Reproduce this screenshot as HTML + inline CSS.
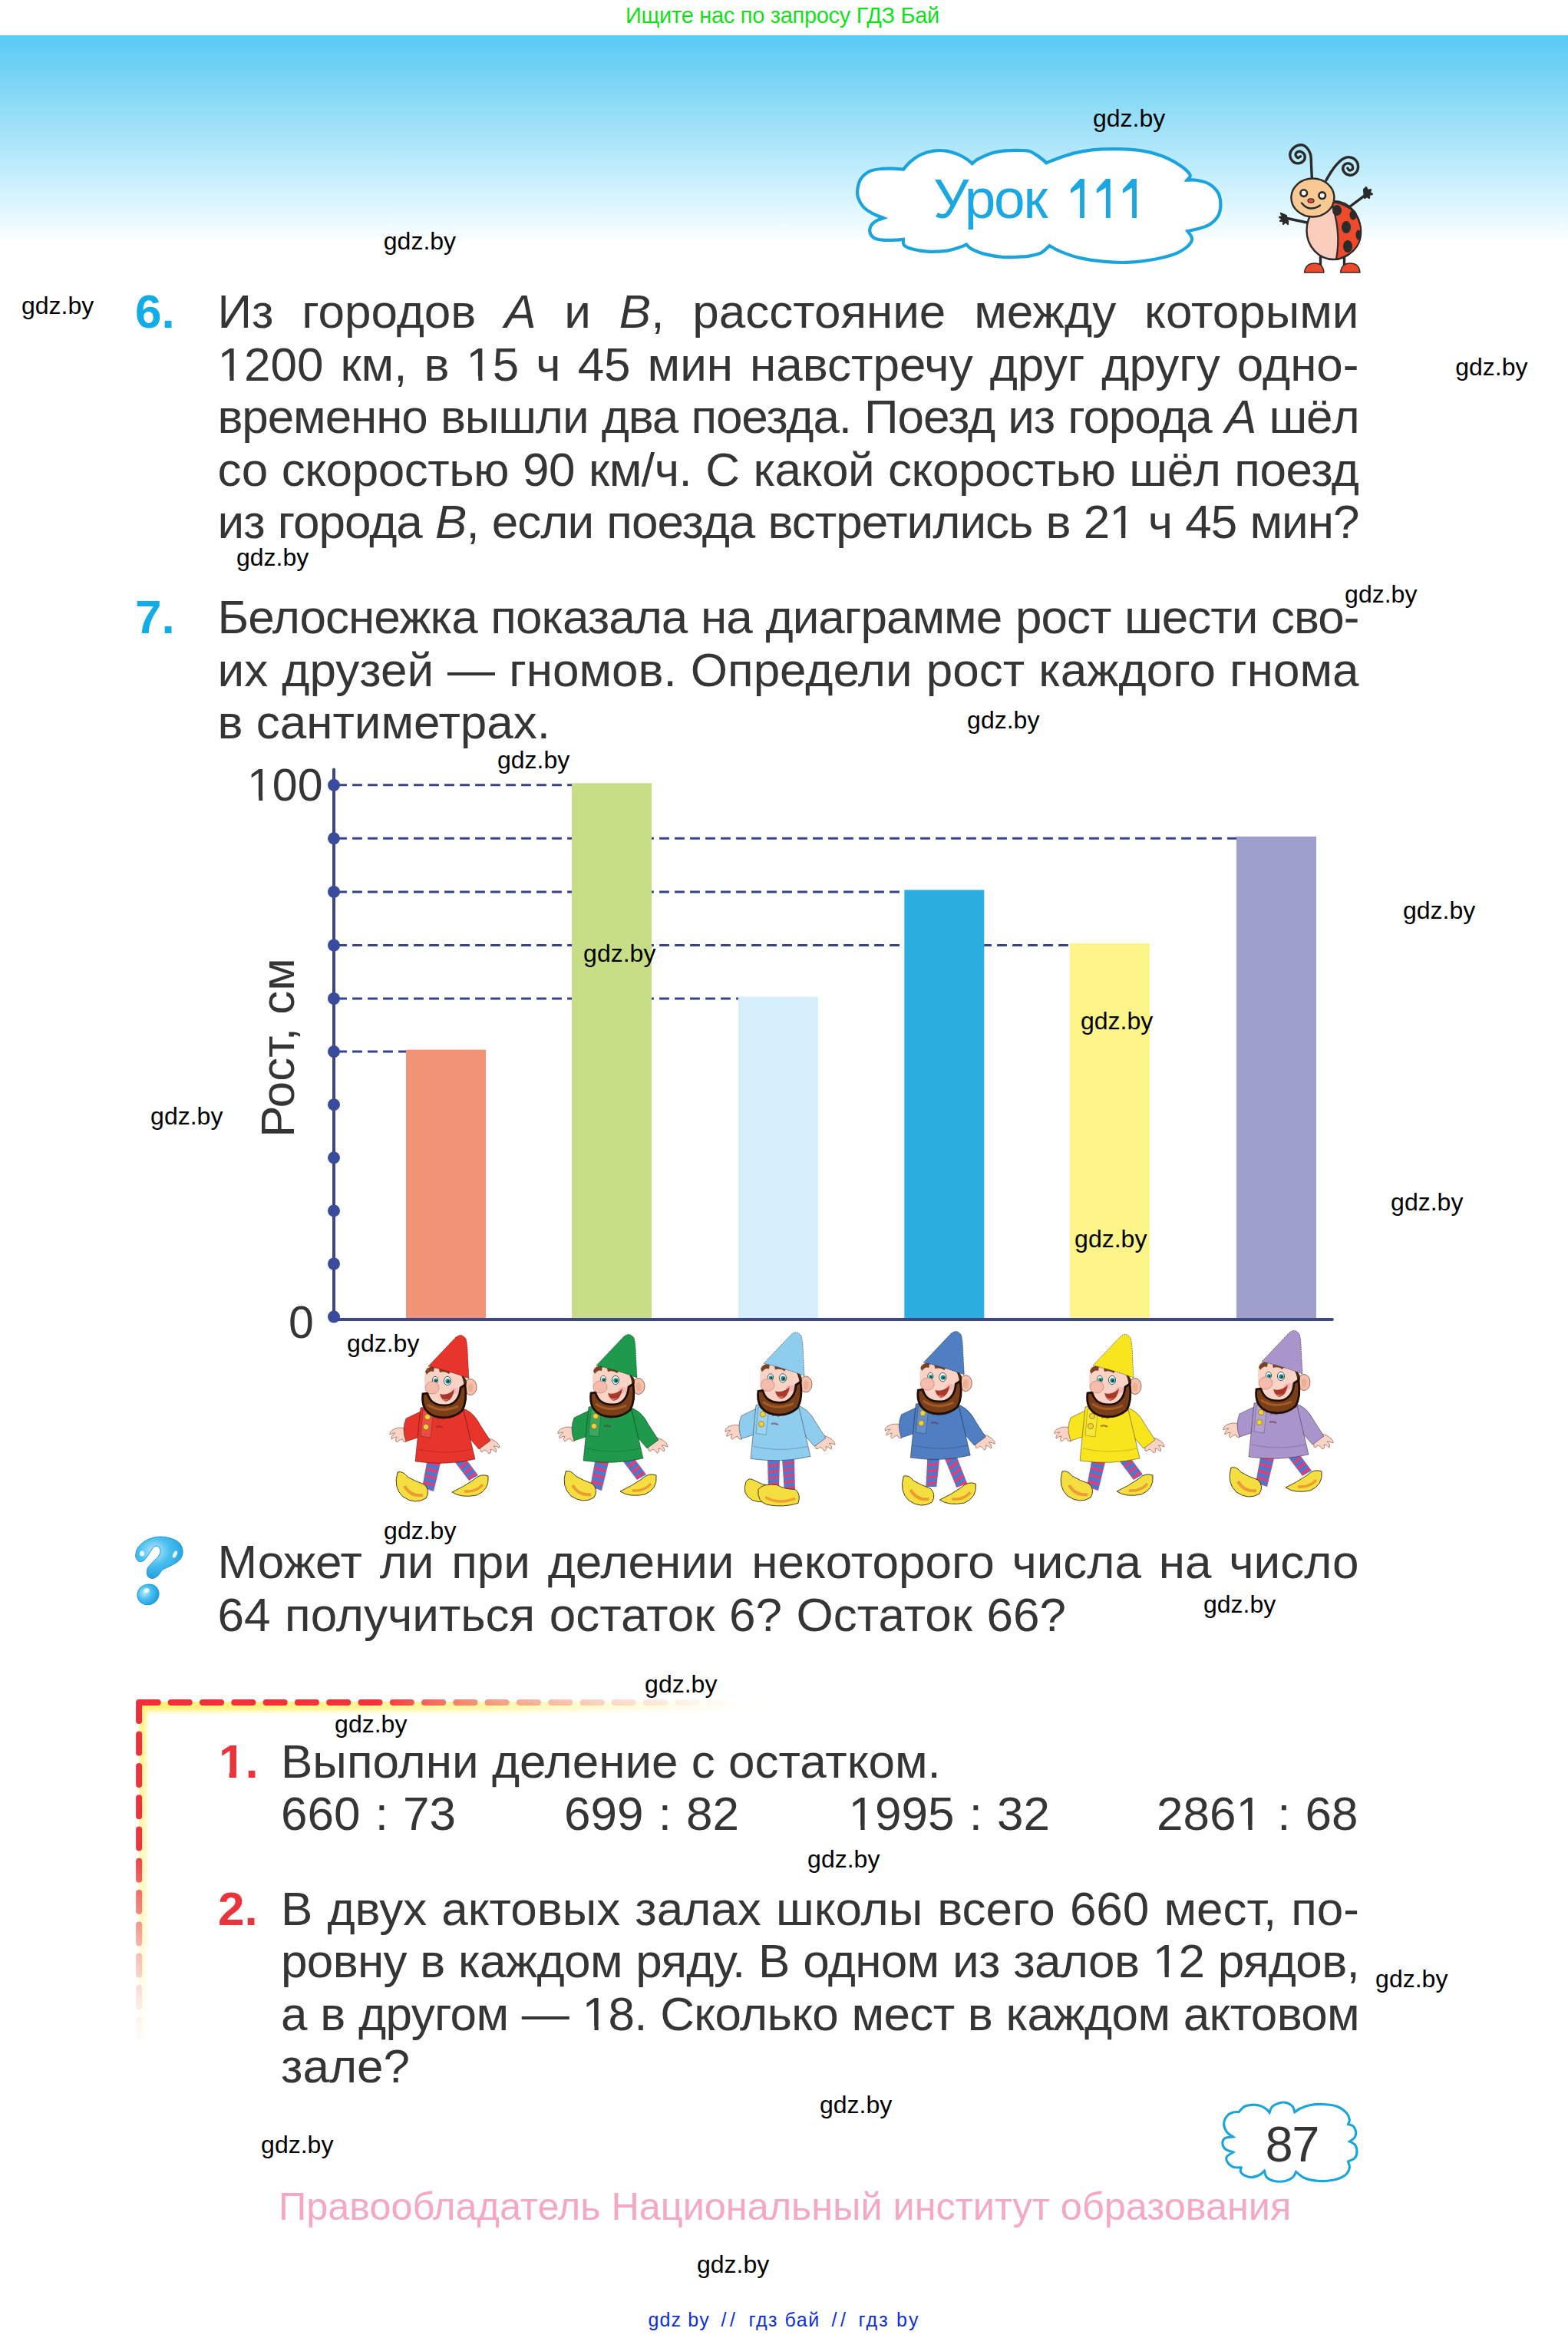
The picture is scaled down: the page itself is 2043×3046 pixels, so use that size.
<!DOCTYPE html>
<html><head><meta charset="utf-8">
<style>
html,body{margin:0;padding:0;background:#fff;}
body{width:2043px;height:3046px;position:relative;overflow:hidden;font-family:"Liberation Sans",sans-serif;color:#353535;}
#hdr{position:absolute;left:0;top:46px;width:2043px;height:274px;
background:linear-gradient(to bottom,#58c9f6 0px,#78d4f5 54px,#96def7 104px,#b4e8fa 154px,#d2f3fe 204px,#ecfaff 244px,#ffffff 270px);}
.top{position:absolute;left:-2px;top:0;width:2043px;text-align:center;font-size:29px;letter-spacing:-0.3px;line-height:40px;color:#14e01a;}
.p{position:absolute;font-size:62px;line-height:68.6px;white-space:nowrap;}
.ns{word-spacing:2px}
.o{display:inline-block;clip-path:polygon(0 0,100% 0,100% 49.3px,21.1px 49.3px,21.1px 100%,15.9px 100%,15.9px 49.3px,0 49.3px)}
.ob{display:inline-block;clip-path:polygon(0 0,100% 0,100% 47.8px,22.9px 47.8px,22.9px 100%,13.6px 100%,13.6px 47.8px,0 47.8px)}
.o2{display:inline-block;clip-path:polygon(0 0,100% 0,100% 45px,20.2px 45px,20.2px 100%,15.2px 100%,15.2px 45px,0 45px)}
.j{text-align:justify;text-align-last:justify;}
.num{position:absolute;font-size:62px;line-height:68.6px;font-weight:bold;white-space:nowrap;}
.blue{color:#12ace6;}
.red{color:#e8343a;}
i{font-style:italic;}
.wm{position:absolute;font-size:32px;line-height:36px;color:#000;white-space:nowrap;}
svg.full{position:absolute;left:0;top:0;width:2043px;height:3046px;overflow:visible;}
.bl{position:absolute;top:3004.6px;font-size:25px;line-height:34px;color:#0c30dc;white-space:nowrap;letter-spacing:0.3px}
.lbl{position:absolute;font-size:58px;line-height:60px;white-space:nowrap;}
</style></head><body>
<div class="top">Ищите нас по запросу ГДЗ Бай</div>
<div id="hdr"></div>

<svg class="full" viewBox="0 0 2043 3046">
<defs>
  <pattern id="stripe" patternUnits="userSpaceOnUse" width="9" height="9" patternTransform="rotate(-25)">
    <rect width="9" height="9" fill="#d8407e"/><rect width="9" height="4.5" fill="#3b7fd4"/>
  </pattern>
  <pattern id="stripeL" patternUnits="userSpaceOnUse" width="9" height="9" patternTransform="rotate(13)">
    <rect width="9" height="9" fill="#d8407e"/><rect width="9" height="4.5" fill="#3b7fd4"/>
  </pattern>
  <pattern id="stripeR" patternUnits="userSpaceOnUse" width="9" height="9" patternTransform="rotate(-37)">
    <rect width="9" height="9" fill="#d8407e"/><rect width="9" height="4.5" fill="#3b7fd4"/>
  </pattern>
  <pattern id="stripe2" patternUnits="userSpaceOnUse" width="8" height="8" patternTransform="rotate(-8)">
    <rect width="8" height="8" fill="#d8407e"/><rect width="8" height="4" fill="#3b7fd4"/>
  </pattern>
  <radialGradient id="qg" cx="0.4" cy="0.35" r="0.7">
    <stop offset="0" stop-color="#bfeafc"/><stop offset="0.45" stop-color="#4cc0f0"/><stop offset="1" stop-color="#1a9bdc"/>
  </radialGradient>
  <linearGradient id="rgH" gradientUnits="userSpaceOnUse" x1="181" y1="0" x2="960" y2="0">
    <stop offset="0" stop-color="#ee2f3b"/>
    <stop offset="0.4" stop-color="#ee353d"/>
    <stop offset="0.55" stop-color="#f07a66" stop-opacity="0.85"/>
    <stop offset="0.72" stop-color="#f39a86" stop-opacity="0.55"/>
    <stop offset="0.88" stop-color="#f6b8a8" stop-opacity="0.25"/>
    <stop offset="1" stop-color="#fbd6cc" stop-opacity="0"/>
  </linearGradient>
  <linearGradient id="rgV" gradientUnits="userSpaceOnUse" x1="0" y1="2218" x2="0" y2="2670">
    <stop offset="0" stop-color="#ee2f3b"/>
    <stop offset="0.42" stop-color="#ee353d"/>
    <stop offset="0.6" stop-color="#f06a60" stop-opacity="0.8"/>
    <stop offset="0.78" stop-color="#f39a90" stop-opacity="0.45"/>
    <stop offset="0.92" stop-color="#f7c0b8" stop-opacity="0.15"/>
    <stop offset="1" stop-color="#fbd6cc" stop-opacity="0"/>
  </linearGradient>
  <linearGradient id="ygH" gradientUnits="userSpaceOnUse" x1="181" y1="0" x2="1010" y2="0">
    <stop offset="0" stop-color="#fff070" stop-opacity="1"/>
    <stop offset="0.55" stop-color="#fff388" stop-opacity="0.75"/>
    <stop offset="1" stop-color="#fffbd0" stop-opacity="0"/>
  </linearGradient>
  <linearGradient id="ygV" gradientUnits="userSpaceOnUse" x1="0" y1="2218" x2="0" y2="2680">
    <stop offset="0" stop-color="#fff37a" stop-opacity="0.9"/>
    <stop offset="0.6" stop-color="#fff59a" stop-opacity="0.55"/>
    <stop offset="1" stop-color="#fffbd0" stop-opacity="0"/>
  </linearGradient>
  <linearGradient id="fadeDown" x1="0" y1="0" x2="0" y2="1"><stop offset="0" stop-color="#fff"/><stop offset="1" stop-color="#fff" stop-opacity="0"/></linearGradient>
  <linearGradient id="fadeRight" x1="0" y1="0" x2="1" y2="0"><stop offset="0" stop-color="#fff"/><stop offset="1" stop-color="#fff" stop-opacity="0"/></linearGradient>
  <mask id="mDown" maskContentUnits="objectBoundingBox"><rect width="1" height="1" fill="url(#fadeDown)"/></mask>
  <mask id="mRight" maskContentUnits="objectBoundingBox"><rect width="1" height="1" fill="url(#fadeRight)"/></mask>
  <linearGradient id="fadeDown2" x1="0" y1="0" x2="0" y2="1"><stop offset="0" stop-color="#fff"/><stop offset="0.45" stop-color="#fff"/><stop offset="1" stop-color="#fff" stop-opacity="0"/></linearGradient>
  <linearGradient id="fadeRight2" x1="0" y1="0" x2="1" y2="0"><stop offset="0" stop-color="#fff"/><stop offset="0.4" stop-color="#fff"/><stop offset="1" stop-color="#fff" stop-opacity="0"/></linearGradient>
  <mask id="mDown2" maskContentUnits="objectBoundingBox"><rect width="1" height="1" fill="url(#fadeDown2)"/></mask>
  <mask id="mRight2" maskContentUnits="objectBoundingBox"><rect width="1" height="1" fill="url(#fadeRight2)"/></mask>

  <g id="gtop">
    <!-- hands -->
    <path d="M26,124 Q16,120 8,124 Q2,127 3,131 Q6,129 10,129 Q4,133 5,137 Q9,134 12,134 Q9,139 12,141 Q16,137 19,137 Q20,141 24,141 Z" fill="#f8d4c6" stroke="#a86858" stroke-width="0.8"/>
    <path d="M120,136 Q131,134 139,139 Q146,143 146,148 Q142,146 138,146 Q143,150 141,154 Q137,150 134,150 Q136,155 132,156 Q129,151 126,151 Q124,155 121,153 Z" fill="#f8d4c6" stroke="#a86858" stroke-width="0.8"/>
    <!-- sleeves and coat -->
    <path d="M47,99 L24,110 Q18,124 24,140 L52,131 Z" fill="var(--c)" stroke="rgba(0,0,0,0.4)" stroke-width="1"/>
    <path d="M94,96 Q111,99 121,119 L134,139 L119,150 L100,128 Z" fill="var(--c)" stroke="rgba(0,0,0,0.4)" stroke-width="1"/>
    <path d="M43,96 Q70,90 98,95 L114,163 Q76,172 36,166 Z" fill="var(--c)" stroke="rgba(0,0,0,0.4)" stroke-width="1"/>
    <path d="M46,99 L60,97 L56,135 L43,133 Z" fill="rgba(255,255,255,0.12)" stroke="rgba(0,0,0,0.3)" stroke-width="0.8"/>
    <path d="M40,150 Q75,158 110,150" fill="none" stroke="rgba(0,0,0,0.18)" stroke-width="1.2"/>
    <circle cx="52" cy="108" r="3.6" fill="#f2d23a" stroke="#8a6a10" stroke-width="0.7"/>
    <circle cx="50" cy="121" r="3.6" fill="#f2d23a" stroke="#8a6a10" stroke-width="0.7"/>
    <path d="M64,110 q5,-2 9,1 M63,121 q5,-2 9,1" fill="none" stroke="rgba(120,40,60,0.6)" stroke-width="2"/>
    <!-- ear -->
    <ellipse cx="108" cy="69" rx="8" ry="10.5" fill="#f4c2ac" stroke="#8a5040" stroke-width="0.8"/>
    <ellipse cx="108" cy="70" rx="3.5" ry="6" fill="#e8a088" opacity="0.6"/>
    <!-- hair behind -->
    <path d="M92,52 Q103,54 103,64 L98,78 Q92,70 90,60 Z" fill="#4a2612"/>
    <!-- face -->
    <path d="M50,44 Q75,38 96,54 Q102,66 98,80 Q88,94 72,92 Q55,90 50,76 Q46,60 50,44 Z" fill="#f9d4c6"/>
    <ellipse cx="88" cy="74" rx="6" ry="4" fill="#f2a0a8" opacity="0.5"/>
    <!-- beard -->
    <path d="M46,78 Q43,100 61,107 Q82,113 97,100 Q104,88 101,66 L95,70 Q94,87 81,92 Q67,95 58,88 Q53,83 52,77 Z" fill="#7a3e18" stroke="#1e0e05" stroke-width="2.8"/>
    <path d="M52,92 Q70,104 92,94" fill="none" stroke="#c07030" stroke-width="3" opacity="0.6"/>
    <!-- brows -->
    <path d="M49,49 Q53,41 61,43 L60,49 Q55,47 51,53 Z" fill="#7a4424"/>
    <path d="M67,46 Q75,41 83,48 L80,52 Q75,48 68,50 Z" fill="#7a4424"/>
    <!-- eyes -->
    <ellipse cx="62" cy="60" rx="3.6" ry="4.6" fill="#fff" stroke="#20302a" stroke-width="0.8"/>
    <ellipse cx="78" cy="61" rx="4.6" ry="5.6" fill="#fff" stroke="#20302a" stroke-width="0.8"/>
    <circle cx="62.5" cy="60.5" r="2.6" fill="#139a98"/>
    <circle cx="78.5" cy="61.5" r="3.2" fill="#139a98"/>
    <circle cx="63" cy="61" r="1.1" fill="#102020"/>
    <circle cx="79" cy="62" r="1.4" fill="#102020"/>
    <!-- nose -->
    <ellipse cx="58" cy="70" rx="9" ry="8" fill="#f5bcae" stroke="#c08070" stroke-width="0.7"/>
    <!-- mouth -->
    <path d="M68,78 Q78,81 87,72 Q85,86 76,88 Q70,86 68,78 Z" fill="#a83828"/>
    <path d="M71,84 Q76,86 80,84 Q77,88 73,87 Z" fill="#e07070"/>
    <!-- hat -->
    <path d="M53,42 L89,4 Q96,-2 102,6 Q104,12 104.5,30 L106,58 Q80,48 53,42 Z" fill="var(--c)" stroke="rgba(0,0,0,0.45)" stroke-width="1" stroke-dasharray="2 1"/>
  </g>
  <g id="shoeL"><path d="M0,0 Q-6,20 7,32 Q23,43 37,34 Q43,24 35,16 Q23,12 13,6 Q7,-2 0,0 Z" fill="#f5df40" stroke="#3a2a10" stroke-width="0.9"/><path d="M9,18 Q17,32 33,30" fill="none" stroke="#e8782a" stroke-width="4" opacity="0.65"/></g>
  <g id="shoeR"><path d="M0,22 Q12,30 32,26 Q49,19 47,1 Q37,-3 28,6 Q15,15 0,22 Z" fill="#f5df40" stroke="#3a2a10" stroke-width="0.9"/><path d="M16,21 Q32,22 40,12" fill="none" stroke="#e8782a" stroke-width="3.5" opacity="0.65"/></g>
  <g id="gnome">
    <use href="#shoeR" x="84" y="184"/>
    <path d="M52,162 L70,164 L60,205 L45,200 Z" fill="url(#stripeL)"/>
    <path d="M84,162 L100,160 L118,184 L106,191 Z" fill="url(#stripeR)"/>
    <use href="#shoeL" x="13" y="180"/>
    <use href="#gtop"/>
  </g>
  <g id="gnome3">
    <path d="M58,166 L74,166 L73,205 L59,205 Z" fill="url(#stripe2)"/>
    <path d="M77,166 L93,166 L94,210 L80,210 Z" fill="url(#stripe2)"/>
    <path d="M30,196 Q24,212 38,220 Q54,226 68,218 Q72,208 64,202 Q50,200 40,194 Q34,190 30,196 Z" fill="#f5df40" stroke="#3a2a10" stroke-width="0.9"/>
    <path d="M46,206 Q44,222 58,226 Q78,230 98,224 Q102,212 94,206 Q80,206 70,200 Q52,198 46,206 Z" fill="#f5df40" stroke="#3a2a10" stroke-width="0.9"/>
    <path d="M55,216 Q72,226 94,218" fill="none" stroke="#e8782a" stroke-width="3.5" opacity="0.6"/>
    <use href="#gtop"/>
  </g>
  <g id="gnome4">
    <path d="M58,166 L74,166 L70,204 L56,204 Z" fill="url(#stripe2)"/>
    <path d="M80,166 L96,164 L110,200 L96,205 Z" fill="url(#stripeR)"/>
    <use href="#shoeL" x="27" y="190"/>
    <use href="#shoeR" x="74" y="199"/>
    <use href="#gtop"/>
  </g>
</defs>

<!-- Урок cloud -->
<path d="M1177.1,220.6 C1178.6,218.9 1182.5,213.9 1186.2,210.7 C1189.9,207.5 1194.5,203.9 1199.5,201.6 C1204.5,199.2 1210.6,197.4 1216.1,196.6 C1221.6,195.8 1227.2,195.8 1232.7,196.6 C1238.2,197.4 1244.6,199.7 1249.3,201.6 C1254.0,203.5 1258.0,206.3 1260.9,208.2 C1263.8,210.1 1265.7,212.4 1266.7,213.2 C1267.9,212.2 1270.1,209.6 1274.1,207.4 C1278.1,205.2 1285.2,201.7 1290.7,199.9 C1296.2,198.1 1301.8,197.3 1307.3,196.6 C1312.8,195.9 1318.4,195.8 1323.9,195.8 C1329.4,195.8 1336.2,195.8 1340.5,196.8 C1344.8,197.8 1346.8,199.6 1350.0,201.6 C1353.2,203.6 1357.7,207.2 1359.9,209.0 C1362.1,210.8 1362.7,211.8 1363.2,212.3 C1364.9,211.6 1367.4,210.3 1373.2,208.2 C1379.0,206.1 1389.7,202.1 1398.0,199.9 C1406.3,197.8 1413.2,196.3 1422.9,195.3 C1432.6,194.3 1445.0,193.9 1456.1,194.1 C1467.2,194.3 1479.6,195.1 1489.3,196.6 C1499.0,198.1 1505.8,199.9 1514.1,203.2 C1522.4,206.5 1532.9,212.3 1539.0,216.5 C1545.1,220.7 1549.3,225.1 1550.6,228.1 C1551.8,231.1 1547.2,233.6 1546.5,234.7 C1548.6,234.7 1554.1,233.9 1558.9,234.7 C1563.7,235.5 1570.8,236.9 1575.5,239.7 C1580.2,242.5 1584.6,246.9 1587.1,251.3 C1589.6,255.7 1590.4,261.2 1590.4,266.2 C1590.4,271.2 1589.6,276.8 1587.1,281.2 C1584.6,285.6 1580.2,289.9 1575.5,292.8 C1570.8,295.7 1563.6,297.2 1558.9,298.6 C1554.2,300.0 1549.2,300.7 1547.3,301.1 C1548.3,302.8 1553.1,307.7 1553.1,311.0 C1553.1,314.3 1551.0,317.7 1547.3,321.0 C1543.6,324.3 1537.6,328.1 1530.7,330.9 C1523.8,333.6 1515.5,335.7 1505.8,337.5 C1496.1,339.3 1483.8,341.1 1472.7,341.7 C1461.7,342.3 1450.6,341.9 1439.5,340.9 C1428.4,339.9 1416.0,338.1 1406.3,335.9 C1396.6,333.7 1388.0,330.2 1381.5,327.6 C1375.0,325.0 1369.8,321.4 1367.4,320.1 C1365.6,321.6 1361.2,327.0 1356.6,329.3 C1352.0,331.6 1344.1,333.0 1340.0,333.8 C1335.9,334.6 1337.7,334.2 1332.2,334.4 C1326.8,334.6 1315.6,335.6 1307.3,335.0 C1299.0,334.4 1289.3,332.7 1282.4,330.9 C1275.5,329.1 1269.7,326.4 1265.8,324.3 C1261.9,322.2 1260.3,319.5 1259.2,318.5 C1257.5,319.2 1253.7,321.2 1249.3,322.6 C1244.9,324.0 1239.6,326.0 1232.7,326.8 C1225.8,327.6 1215.3,328.0 1207.8,327.6 C1200.3,327.2 1192.9,325.7 1187.9,324.3 C1182.9,322.9 1179.7,321.4 1177.9,319.3 C1176.1,317.2 1177.2,313.1 1177.1,311.8 C1175.3,311.9 1170.8,312.6 1166.3,312.7 C1161.8,312.8 1154.5,313.2 1149.8,312.7 C1145.1,312.1 1140.9,311.3 1138.1,309.4 C1135.3,307.5 1133.6,303.9 1133.2,301.1 C1132.8,298.3 1134.1,295.2 1135.7,292.8 C1137.3,290.4 1140.5,288.4 1143.1,287.0 C1145.7,285.6 1150.0,284.6 1151.4,284.1 C1148.9,283.1 1140.9,280.2 1136.5,277.8 C1132.1,275.4 1128.0,272.9 1124.9,269.6 C1121.9,266.3 1119.5,261.8 1118.2,257.9 C1117.0,254.0 1116.8,250.4 1117.4,246.3 C1118.0,242.2 1119.0,237.0 1121.6,233.1 C1124.2,229.2 1128.5,225.3 1133.2,223.1 C1137.9,220.9 1144.3,220.4 1149.8,219.8 C1155.3,219.2 1161.8,219.7 1166.3,219.8 C1170.8,219.9 1175.3,220.5 1177.1,220.6 Z" fill="#fff" stroke="#1ba3de" stroke-width="4.2"/>
<path d="M1407.1,233 L1412.9,233 L1412.9,283.9 L1407.1,283.9 L1407.1,244.4 L1395.0,251.8 L1395.0,246.4 Z" fill="#1ba7e1"/>
<path d="M1440.9,233 L1446.7,233 L1446.7,283.9 L1440.9,283.9 L1440.9,244.4 L1428.8,251.8 L1428.8,246.4 Z" fill="#1ba7e1"/>
<path d="M1475.1,233 L1480.9,233 L1480.9,283.9 L1475.1,283.9 L1475.1,244.4 L1463.0,251.8 L1463.0,246.4 Z" fill="#1ba7e1"/>
<!-- page number cloud -->
<path d="M1614.1,2751.6 C1615.3,2750.4 1618.2,2746.1 1621.4,2744.5 C1624.6,2742.9 1629.9,2742.2 1633.5,2742.1 C1637.1,2742.0 1640.4,2742.9 1643.2,2743.9 C1646.0,2744.9 1648.6,2746.8 1650.4,2748.2 C1652.2,2749.6 1653.5,2751.7 1654.1,2752.4 C1654.7,2751.1 1655.5,2746.6 1657.7,2744.5 C1659.9,2742.4 1664.2,2740.5 1667.4,2739.7 C1670.6,2738.9 1674.3,2738.9 1677.1,2739.7 C1679.9,2740.5 1682.8,2742.5 1684.4,2744.5 C1686.0,2746.5 1686.4,2750.6 1686.8,2751.8 C1688.0,2751.0 1690.9,2748.5 1694.1,2747.0 C1697.3,2745.5 1701.2,2743.6 1706.2,2742.7 C1711.2,2741.8 1718.2,2741.2 1724.3,2741.5 C1730.3,2741.8 1737.5,2742.6 1742.5,2744.5 C1747.5,2746.4 1752.0,2750.2 1754.6,2753.0 C1757.2,2755.8 1758.0,2759.1 1758.3,2761.5 C1758.6,2763.9 1756.8,2766.6 1756.5,2767.6 C1757.6,2768.0 1761.4,2768.2 1763.1,2770.0 C1764.8,2771.8 1766.6,2775.9 1766.8,2778.5 C1767.0,2781.1 1765.7,2783.8 1764.3,2785.7 C1762.9,2787.6 1759.3,2789.3 1758.3,2790.0 C1759.5,2790.7 1763.9,2792.1 1765.5,2794.2 C1767.1,2796.3 1768.0,2799.9 1768.0,2802.7 C1768.0,2805.5 1767.4,2809.0 1765.5,2811.2 C1763.6,2813.4 1758.0,2815.2 1756.5,2816.0 C1756.8,2817.4 1759.0,2821.5 1758.3,2824.5 C1757.6,2827.5 1755.8,2831.6 1752.2,2834.2 C1748.6,2836.8 1742.2,2839.1 1736.5,2840.3 C1730.8,2841.5 1724.4,2841.9 1718.3,2841.5 C1712.2,2841.1 1705.0,2839.8 1700.1,2837.8 C1695.1,2835.8 1690.5,2830.8 1688.6,2829.4 C1687.9,2830.6 1686.7,2834.6 1684.4,2836.6 C1682.1,2838.6 1678.8,2840.7 1674.7,2841.5 C1670.7,2842.3 1664.1,2842.3 1660.1,2841.5 C1656.0,2840.7 1652.5,2838.8 1650.4,2836.6 C1648.3,2834.4 1647.9,2829.5 1647.4,2828.1 C1646.5,2828.9 1644.7,2831.6 1642.0,2833.0 C1639.3,2834.4 1634.4,2836.4 1631.0,2836.6 C1627.6,2836.8 1623.8,2835.4 1621.4,2834.2 C1619.0,2833.0 1617.2,2831.1 1616.5,2829.4 C1615.8,2827.7 1617.0,2824.8 1617.1,2823.9 C1615.4,2823.8 1609.7,2824.4 1606.8,2823.3 C1603.9,2822.2 1600.9,2819.4 1599.5,2817.2 C1598.1,2815.0 1597.1,2812.2 1598.3,2810.0 C1599.5,2807.8 1605.4,2804.9 1606.8,2803.9 C1605.2,2803.3 1599.4,2802.1 1597.1,2800.3 C1594.8,2798.5 1593.1,2795.4 1592.9,2793.0 C1592.7,2790.6 1593.6,2787.2 1595.9,2785.7 C1598.2,2784.2 1605.0,2784.2 1606.8,2783.9 C1605.4,2782.8 1600.3,2780.2 1598.3,2777.3 C1596.3,2774.4 1594.5,2770.0 1594.7,2766.4 C1594.9,2762.8 1597.3,2758.4 1599.5,2756.0 C1601.7,2753.6 1605.6,2752.5 1608.0,2751.8 C1610.4,2751.1 1613.1,2751.6 1614.1,2751.6 Z" fill="#fff" stroke="#1ba3de" stroke-width="3.1"/>

<!-- ladybug -->
<g stroke="#2b2b2b" stroke-linecap="round" stroke-linejoin="round">
  <path d="M1709.4,233.0 C1709.2,230.0 1708.8,220.4 1708.5,215.0 C1708.2,209.6 1708.7,204.7 1707.3,200.6 C1705.9,196.5 1702.9,192.3 1700.2,190.4 C1697.5,188.5 1693.9,188.6 1691.0,189.4 C1688.1,190.2 1684.6,193.3 1682.9,195.5 C1681.2,197.7 1680.6,200.3 1680.8,202.7 C1681.0,205.1 1682.2,208.1 1683.9,209.8 C1685.6,211.5 1688.6,212.9 1691.0,212.9 C1693.4,212.9 1696.7,211.3 1698.2,209.8 C1699.7,208.3 1700.4,205.6 1700.2,203.7 C1700.0,201.8 1698.6,199.6 1697.1,198.6 C1695.6,197.6 1692.5,197.1 1691.0,197.6 C1689.5,198.1 1688.0,200.2 1688.0,201.6 C1688.0,202.9 1689.9,205.3 1691.0,205.7 C1692.1,206.0 1693.9,204.0 1694.5,203.7" fill="none" stroke-width="3.4"/>
  <path d="M1727.8,235.0 C1729.0,233.0 1732.6,226.5 1735.0,223.0 C1737.4,219.5 1739.5,216.6 1742.0,213.9 C1744.5,211.2 1747.5,208.2 1750.2,206.7 C1752.9,205.2 1755.7,204.3 1758.4,204.7 C1761.1,205.0 1764.6,206.8 1766.5,208.8 C1768.4,210.8 1769.6,214.2 1769.6,216.9 C1769.6,219.6 1768.4,223.2 1766.5,225.1 C1764.6,227.0 1761.0,228.4 1758.4,228.2 C1755.9,228.0 1752.6,226.0 1751.2,224.1 C1749.8,222.2 1749.5,218.8 1750.2,216.9 C1750.9,215.0 1753.4,213.2 1755.3,212.9 C1757.2,212.6 1760.2,213.7 1761.4,214.9 C1762.6,216.1 1762.9,218.8 1762.4,220.0 C1761.9,221.2 1759.5,222.2 1758.4,222.0 C1757.3,221.8 1756.2,219.5 1755.8,219.0" fill="none" stroke-width="3.4"/>
  <path d="M1703,290 L1675,284" fill="none" stroke-width="3.4"/>
  <path d="M1755,272 L1779,254" fill="none" stroke-width="3.4"/>
  <path d="M1720.5,335 L1720.5,350 M1751.5,335 L1751.5,350" fill="none" stroke-width="3.4"/>
  <path d="M1699.5,355 Q1701,343 1713,343 Q1724,343 1725,355 Z" fill="#ec4a2c" stroke-width="1.4"/>
  <path d="M1746.5,355 Q1748,343 1759,343 Q1771,343 1772,355 Z" fill="#ec4a2c" stroke-width="1.4"/>
  <g stroke-width="2.2" fill="#2b2b2b">
   <path d="M1669,278 l2,4 l-4,1 l4,2 l-3,3 l4,0 l0,4 l3,-3 l3,3 l0,-4 l-2,-3 l0,-4 z"/>
   <path d="M1777,247 l3,-3 l2,4 l4,-1 l-1,4 l3,2 l-4,1 l0,4 l-3,-2 l-3,2 z"/>
  </g>
  <ellipse cx="1737.5" cy="300" rx="35" ry="38" fill="#fbcdbd" stroke-width="2.4"/>
  <path d="M1734,262.5 Q1747,264 1760,272 Q1775,287 1773,306 Q1771,330 1741,338 Q1748,300 1734,262.5 Z" fill="#ee4a2c" stroke-width="2.2"/>
  <g fill="#2b2b2b" stroke="none">
    <ellipse cx="1742" cy="274" rx="6" ry="7"/>
    <ellipse cx="1763" cy="280" rx="4.5" ry="6.5"/>
    <ellipse cx="1754" cy="296" rx="6" ry="8"/>
    <ellipse cx="1770" cy="306" rx="3.5" ry="6.5"/>
    <ellipse cx="1756" cy="321" rx="6" ry="8"/>
  </g>
  <ellipse cx="1710.4" cy="257.5" rx="28" ry="25" fill="#f9c993" stroke-width="2.4"/>
  <circle cx="1698.7" cy="251.6" r="4.3" fill="#fff" stroke-width="2.6"/>
  <circle cx="1722.7" cy="254.7" r="4.3" fill="#fff" stroke-width="2.6"/>
  <ellipse cx="1708" cy="261.5" rx="4" ry="2.6" fill="#ec4a3a" stroke-width="1.2"/>
  <path d="M1696,264.5 Q1706,277 1720,267.5" fill="none" stroke-width="2.4"/>
</g>

<!-- chart -->
<line x1="439.1" y1="1022.8" x2="745" y2="1022.8" stroke="#34438c" stroke-width="3" stroke-dasharray="12.8 7.2"/>
<line x1="439.1" y1="1092.3" x2="1611" y2="1092.3" stroke="#34438c" stroke-width="3" stroke-dasharray="12.8 7.2"/>
<line x1="439.1" y1="1161.9" x2="1178.3" y2="1161.9" stroke="#34438c" stroke-width="3" stroke-dasharray="12.8 7.2"/>
<line x1="439.1" y1="1231.5" x2="1394" y2="1231.5" stroke="#34438c" stroke-width="3" stroke-dasharray="12.8 7.2"/>
<line x1="439.1" y1="1301.0" x2="962" y2="1301.0" stroke="#34438c" stroke-width="3" stroke-dasharray="12.8 7.2"/>
<line x1="439.1" y1="1370.1" x2="529" y2="1370.1" stroke="#34438c" stroke-width="3" stroke-dasharray="12.8 7.2"/>
<rect x="529" y="1367.6" width="104" height="349.4" fill="#f29276"/>
<rect x="745" y="1020.3" width="104" height="696.7" fill="#c8de86"/>
<rect x="962" y="1298.5" width="104" height="418.5" fill="#d7eefb"/>
<rect x="1178.3" y="1159.4" width="104" height="557.6" fill="#2daee0"/>
<rect x="1394" y="1229.0" width="104" height="488.0" fill="#fdf48a"/>
<rect x="1611" y="1089.8" width="104" height="627.2" fill="#9e9fcc"/>
<line x1="435" y1="1002.5" x2="435" y2="1715.6" stroke="#3c4689" stroke-width="4" stroke-linecap="round"/>
<line x1="435" y1="1719" x2="1736" y2="1719" stroke="#3c4689" stroke-width="3.8" stroke-linecap="round"/>
<circle cx="435" cy="1715.6" r="8" fill="#3a4a9c"/>
<circle cx="435" cy="1646.5" r="8" fill="#3a4a9c"/>
<circle cx="435" cy="1577.4" r="8" fill="#3a4a9c"/>
<circle cx="435" cy="1508.3" r="8" fill="#3a4a9c"/>
<circle cx="435" cy="1439.2" r="8" fill="#3a4a9c"/>
<circle cx="435" cy="1370.1" r="8" fill="#3a4a9c"/>
<circle cx="435" cy="1301.0" r="8" fill="#3a4a9c"/>
<circle cx="435" cy="1231.5" r="8" fill="#3a4a9c"/>
<circle cx="435" cy="1161.9" r="8" fill="#3a4a9c"/>
<circle cx="435" cy="1092.3" r="8" fill="#3a4a9c"/>
<circle cx="435" cy="1022.8" r="8" fill="#3a4a9c"/>

<!-- gnomes -->
<use href="#gnome" x="505" y="1738" style="--c:#e8352b"/>
<use href="#gnome" x="724" y="1737" style="--c:#1f9a4c"/>
<use href="#gnome3" x="942" y="1734.4" style="--c:#8fcdee"/>
<use href="#gnome4" x="1150.3" y="1733.1" style="--c:#4f7fc2"/>
<use href="#gnome" x="1371" y="1737" style="--c:#f8e51e"/>
<use href="#gnome" x="1591" y="1732" style="--c:#a995cb"/>

<!-- question mark -->
<path d="M176.8,2025.2 C177.2,2022.8 177.6,2019.1 179.9,2016.0 C182.2,2012.9 186.3,2009.1 190.6,2006.8 C194.9,2004.5 200.8,2002.7 205.9,2002.2 C211.0,2001.7 216.6,2002.5 221.2,2003.8 C225.8,2005.1 230.7,2007.1 233.5,2009.9 C236.3,2012.7 237.8,2017.0 238.1,2020.6 C238.3,2024.2 237.3,2028.2 235.0,2031.3 C232.7,2034.4 228.1,2036.7 224.3,2039.0 C220.5,2041.3 215.1,2042.8 212.0,2045.1 C208.9,2047.4 208.2,2050.9 205.9,2052.8 C203.6,2054.7 200.6,2056.6 198.3,2056.6 C196.0,2056.6 193.1,2055.0 192.1,2052.8 C191.1,2050.6 191.1,2046.4 192.1,2043.6 C193.1,2040.8 196.0,2038.5 198.3,2035.9 C200.6,2033.4 204.1,2030.8 205.9,2028.3 C207.7,2025.8 209.0,2022.9 209.0,2020.6 C209.0,2018.3 207.4,2015.3 205.9,2014.5 C204.4,2013.7 201.8,2014.2 199.8,2016.0 C197.8,2017.8 195.7,2022.4 193.7,2025.2 C191.7,2028.0 189.6,2031.4 187.6,2032.9 C185.6,2034.4 183.1,2034.8 181.4,2034.4 C179.7,2034.0 178.4,2032.1 177.6,2030.6 C176.8,2029.1 176.4,2027.6 176.8,2025.2 Z" fill="url(#qg)" stroke="#1a98d8" stroke-width="1"/>
<ellipse cx="193" cy="2077.3" rx="14.2" ry="13.2" transform="rotate(-25 193 2077.3)" fill="url(#qg)" stroke="#1a98d8" stroke-width="1"/>
<ellipse cx="185" cy="2024" rx="3" ry="3.5" fill="#fff" opacity="0.85"/>
<ellipse cx="228" cy="2025" rx="2.5" ry="5" fill="#fff" opacity="0.85" transform="rotate(25 228 2025)"/>
<ellipse cx="191" cy="2072" rx="3.5" ry="3" fill="#fff" opacity="0.85"/>

<!-- red corner -->
<rect x="185" y="2217" width="830" height="17" fill="url(#ygH)" mask="url(#mDown2)"/>
<rect x="181" y="2222" width="14" height="460" fill="url(#ygV)" mask="url(#mRight2)"/>
<path d="M181.1,2242 L181.1,2218 L205.7,2218" fill="none" stroke="#ee2f3b" stroke-width="8" stroke-linecap="round" stroke-linejoin="round"/>
<g stroke="url(#rgH)" stroke-width="8" stroke-linecap="round">
<line x1="222.7" y1="2218" x2="246.7" y2="2218"/>
<line x1="264.0" y1="2218" x2="288.0" y2="2218"/>
<line x1="305.3" y1="2218" x2="329.3" y2="2218"/>
<line x1="346.6" y1="2218" x2="370.6" y2="2218"/>
<line x1="387.9" y1="2218" x2="411.9" y2="2218"/>
<line x1="429.2" y1="2218" x2="453.2" y2="2218"/>
<line x1="470.5" y1="2218" x2="494.5" y2="2218"/>
<line x1="511.8" y1="2218" x2="535.8" y2="2218"/>
<line x1="553.1" y1="2218" x2="577.1" y2="2218"/>
<line x1="594.4" y1="2218" x2="618.4" y2="2218"/>
<line x1="635.7" y1="2218" x2="659.7" y2="2218"/>
<line x1="677.0" y1="2218" x2="701.0" y2="2218"/>
<line x1="718.3" y1="2218" x2="742.3" y2="2218"/>
<line x1="759.6" y1="2218" x2="783.6" y2="2218"/>
<line x1="800.9" y1="2218" x2="824.9" y2="2218"/>
<line x1="842.2" y1="2218" x2="866.2" y2="2218"/>
<line x1="883.5" y1="2218" x2="907.5" y2="2218"/>
<line x1="924.8" y1="2218" x2="948.8" y2="2218"/>
<line x1="966.1" y1="2218" x2="990.1" y2="2218"/>
</g>
<g stroke="url(#rgV)" stroke-width="8" stroke-linecap="round">
<line x1="181.1" y1="2259.6" x2="181.1" y2="2283.6"/>
<line x1="181.1" y1="2300.9" x2="181.1" y2="2324.9"/>
<line x1="181.1" y1="2342.2" x2="181.1" y2="2366.2"/>
<line x1="181.1" y1="2383.5" x2="181.1" y2="2407.5"/>
<line x1="181.1" y1="2424.8" x2="181.1" y2="2448.8"/>
<line x1="181.1" y1="2466.1" x2="181.1" y2="2490.1"/>
<line x1="181.1" y1="2507.4" x2="181.1" y2="2531.4"/>
<line x1="181.1" y1="2548.7" x2="181.1" y2="2572.7"/>
<line x1="181.1" y1="2590.0" x2="181.1" y2="2614.0"/>
<line x1="181.1" y1="2631.3" x2="181.1" y2="2655.3"/>
<line x1="181.1" y1="2672.6" x2="181.1" y2="2696.6"/>
</g>
</svg>

<!-- Урок 111 text -->
<div style="position:absolute;left:1216px;top:213.5px;font-size:73px;line-height:90px;letter-spacing:-2.3px;color:#1ba7e1;white-space:nowrap">Урок</div>

<!-- chart labels -->
<div class="lbl" style="left:322px;top:993px;font-size:59px"><span class="o2">1</span>00</div>
<div class="lbl" style="left:376px;top:1693px;font-size:59px">0</div>
<div class="lbl" style="left:245px;top:1335px;font-size:62px;transform:rotate(-90deg);transform-origin:center">Рост, см</div>

<!-- Task 6 -->
<div class="num blue" style="left:176px;top:372px">6.</div>
<div class="p" style="left:283.5px;top:372px;width:1487px">
<div class="j">Из городов <i>A</i> и <i>B</i>, расстояние между которыми</div>
<div class="j"><span class="o">1</span>200 км, в <span class="o">1</span>5 ч 45 мин навстречу друг другу одно-</div>
<div class="j" style="letter-spacing:-1.1px">временно вышли два поезда. Поезд из города <i>A</i> шёл</div>
<div class="j" style="letter-spacing:-0.45px">со скоростью 90 км/ч. С какой скоростью шёл поезд</div>
<div class="j" style="letter-spacing:-0.98px">из города <i>B</i>, если поезда встретились в 2<span class="o">1</span> ч 45 мин?</div>
</div>

<!-- Task 7 -->
<div class="num blue" style="left:176px;top:770.2px">7.</div>
<div class="p" style="left:283.5px;top:770.2px;width:1487px">
<div class="j" style="letter-spacing:-0.98px">Белоснежка показала на диаграмме рост шести сво-</div>
<div class="j">их друзей — гномов. Определи рост каждого гнома</div>
<div>в сантиметрах.</div>
</div>

<!-- Question -->
<div class="p" style="left:283.5px;top:2001.3px;width:1487px">
<div class="j">Может ли при делении некоторого числа на число</div>
<div style="word-spacing:1.4px">64 получиться остаток 6? Остаток 66?</div>
</div>

<!-- Task 1 -->
<div class="num red" style="left:285px;top:2261px"><span class="ob">1</span>.</div>
<div class="p" style="left:366px;top:2261px;width:1405px">
<div>Выполни деление с остатком.</div>
</div>
<div class="p ns" style="left:366px;top:2329.1px">660 : 73</div>
<div class="p ns" style="left:735px;top:2329.1px">699 : 82</div>
<div class="p ns" style="left:1105.5px;top:2329.1px"><span class="o">1</span>995 : 32</div>
<div class="p ns" style="left:1507px;top:2329.1px">286<span class="o">1</span> : 68</div>

<!-- Task 2 -->
<div class="num red" style="left:284px;top:2452.7px">2.</div>
<div class="p" style="left:366px;top:2452.7px;width:1405px">
<div class="j">В двух актовых залах школы всего 660 мест, по-</div>
<div class="j" style="letter-spacing:-0.66px">ровну в каждом ряду. В одном из залов <span class="o">1</span>2 рядов,</div>
<div class="j" style="letter-spacing:-0.66px">а в другом — <span class="o">1</span>8. Сколько мест в каждом актовом</div>
<div>зале?</div>
</div>

<!-- page number -->
<div style="position:absolute;left:1648.5px;top:2756.5px;font-size:65px;line-height:74px;letter-spacing:-1.5px;white-space:nowrap">87</div>

<!-- copyright -->
<div style="position:absolute;left:363px;top:2843px;font-size:50.4px;line-height:64px;color:#f5a8c4;white-space:nowrap">Правообладатель Национальный институт образования</div>

<!-- watermarks -->
<div class="wm" style="left:1424.0px;top:135.8px">gdz.by</div>
<div class="wm" style="left:499.8px;top:295.6px">gdz.by</div>
<div class="wm" style="left:28.0px;top:379.7px">gdz.by</div>
<div class="wm" style="left:1896.2px;top:459.7px">gdz.by</div>
<div class="wm" style="left:308.0px;top:707.6px">gdz.by</div>
<div class="wm" style="left:1752.1px;top:755.6px">gdz.by</div>
<div class="wm" style="left:1260.1px;top:919.7px">gdz.by</div>
<div class="wm" style="left:648.0px;top:971.7px">gdz.by</div>
<div class="wm" style="left:1828.0px;top:1167.6px">gdz.by</div>
<div class="wm" style="left:760.1px;top:1223.8px">gdz.by</div>
<div class="wm" style="left:1408.0px;top:1311.7px">gdz.by</div>
<div class="wm" style="left:196.1px;top:1435.6px">gdz.by</div>
<div class="wm" style="left:1812.1px;top:1547.6px">gdz.by</div>
<div class="wm" style="left:1400.1px;top:1595.6px">gdz.by</div>
<div class="wm" style="left:452.1px;top:1731.5px">gdz.by</div>
<div class="wm" style="left:500.1px;top:1975.6px">gdz.by</div>
<div class="wm" style="left:1568.0px;top:2071.6px">gdz.by</div>
<div class="wm" style="left:840.1px;top:2175.6px">gdz.by</div>
<div class="wm" style="left:436.1px;top:2227.6px">gdz.by</div>
<div class="wm" style="left:1052.1px;top:2403.6px">gdz.by</div>
<div class="wm" style="left:1792.1px;top:2559.6px">gdz.by</div>
<div class="wm" style="left:1068.0px;top:2723.6px">gdz.by</div>
<div class="wm" style="left:340.1px;top:2775.6px">gdz.by</div>
<div class="wm" style="left:908.0px;top:2931.5px">gdz.by</div>

<!-- bottom link -->
<div class="bl" style="left:844.5px;letter-spacing:1.1px">gdz by</div><div class="bl" style="left:939.5px;letter-spacing:4.5px">//</div><div class="bl" style="left:975.5px;letter-spacing:1.5px">гдз бай</div><div class="bl" style="left:1083.5px;letter-spacing:4.5px">//</div><div class="bl" style="left:1118.5px;letter-spacing:2.1px">гдз by</div>
</body></html>
